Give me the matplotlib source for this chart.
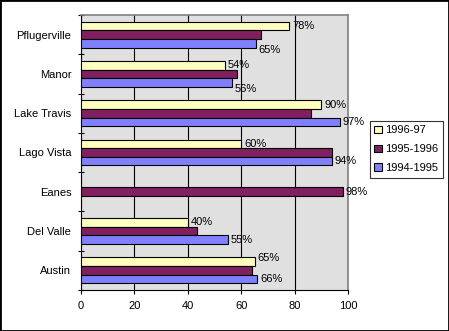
import numpy as np
import matplotlib
matplotlib.use("Agg")
import matplotlib.pyplot as plt
from matplotlib.patches import Rectangle

plt.rcParams['font.family'] = ['Liberation Sans', 'DejaVu Sans']

categories = ["Austin", "Del Valle", "Eanes", "Lago Vista", "Lake Travis", "Manor", "Pflugerville"]
series_names = ["1996-97", "1995-1996", "1994-1995"]
v_1996_97 = [65, 40, np.nan, 60, 90, 54, 78]
v_1995_96 = [64, 43.5, 98, 94, 86, 58.5, 67.5]
v_1994_95 = [66, 55, np.nan, 94, 97, 56.5, 65.5]
# which bars carry a percent label
lab_1996_97 = [65, 40, None, 60, 90, 54, 78]
lab_1995_96 = [None, None, 98, None, None, None, None]
lab_1994_95 = [66, 55, None, 94, 97, 56, 65]

colors = ["#FFFFC0", "#802060", "#8080FF"]
bg = "#E0E0E0"
fs = 8

fig = plt.figure(figsize=(4.49, 3.31), dpi=100)
ax = fig.add_axes([81/449, 1-290/331, (348-81)/449, (290-15)/331])
ax.set_facecolor(bg)

y = np.arange(len(categories))
h = 0.22
offs = [h, 0, -h]
all_vals = [v_1996_97, v_1995_96, v_1994_95]
all_labs = [lab_1996_97, lab_1995_96, lab_1994_95]
for k in range(3):
    vals = np.array(all_vals[k], dtype=float)
    m = ~np.isnan(vals)
    ax.barh(y[m] + offs[k], vals[m], height=h, color=colors[k], edgecolor="black",
            linewidth=0.8, label=series_names[k], zorder=3)

# label nudges (dx, dy in points) for specific labels
nudge = {(0, 0): (0, 3), (2, 6): (0, -4.5), (2, 5): (0, -4.5)}
for k in range(3):
    for i, lv in enumerate(all_labs[k]):
        if lv is None:
            continue
        val = all_vals[k][i]
        dx, dy = nudge.get((k, i), (0, 0))
        ax.annotate(f"{lv:g}%", (val, y[i] + offs[k]), xytext=(2 + dx, dy),
                    textcoords="offset points", va="center", ha="left",
                    fontsize=fs, zorder=5, annotation_clip=False)

ax.set_xlim(0, 100)
ax.set_ylim(-0.5, len(categories) - 0.5)
ax.set_xticks(np.arange(0, 101, 20))
ax.set_yticks(y)
ax.set_yticklabels(categories, fontsize=fs)
ax.tick_params(axis='y', length=0, pad=7)
ax.set_yticks(np.arange(-0.5, len(categories)), minor=True)
ax.tick_params(axis='y', which='minor', length=5, direction='inout', width=0.8)
ax.tick_params(axis='x', length=3, direction='out', width=0.8, labelsize=fs, pad=5)
ax.xaxis.grid(True, color="black", linewidth=0.8, zorder=0)
ax.set_axisbelow(True)
for s in ["top", "right"]:
    ax.spines[s].set_color("#808080")
    ax.spines[s].set_linewidth(1.2)
for s in ["left", "bottom"]:
    ax.spines[s].set_color("black")
    ax.spines[s].set_linewidth(0.8)

leg = fig.legend(loc="upper left", bbox_to_anchor=(370/449, 1-121/331),
                 fontsize=fs, frameon=True, fancybox=False, edgecolor="black",
                 handlelength=0.7, handleheight=0.7, handletextpad=0.3,
                 borderpad=0.4, labelspacing=0.8, borderaxespad=0)
leg.get_frame().set_linewidth(0.8)

fig.patches.append(Rectangle((0, 0), 1, 1, transform=fig.transFigure, fill=False,
                             edgecolor="black", linewidth=2))
fig.savefig("out.png", dpi=100)
